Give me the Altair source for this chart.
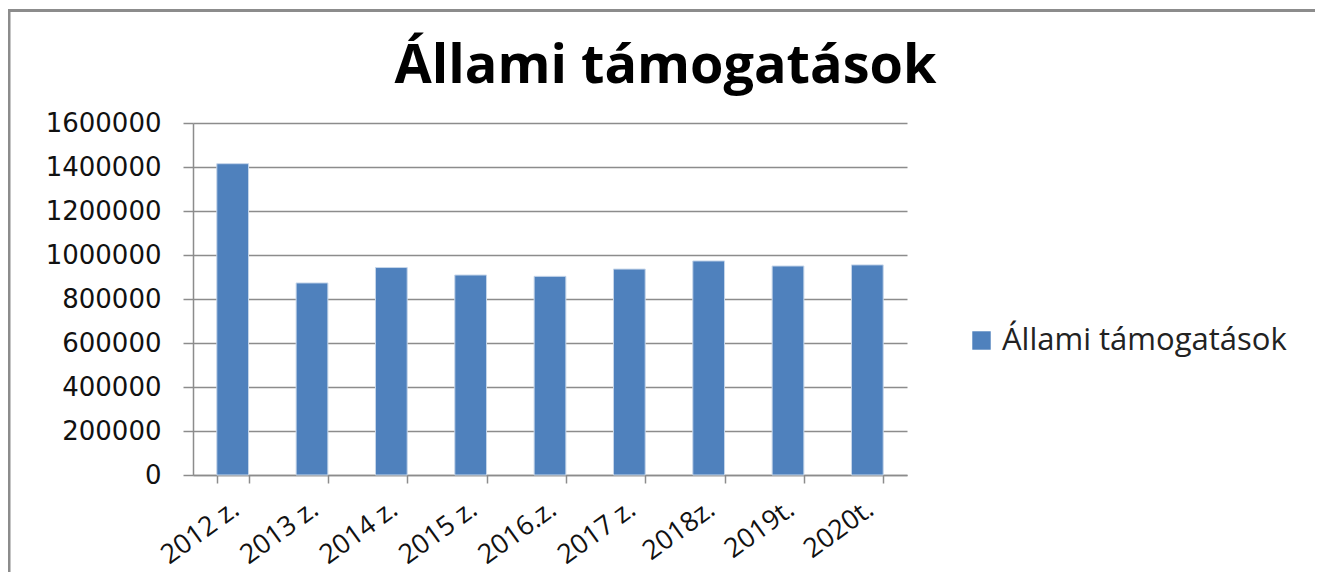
import altair as alt
import pandas as pd

categories = ["2012 z.", "2013 z.", "2014 z.", "2015 z.", "2016.z.", "2017 z.", "2018z.", "2019t.", "2020t."]
values = [1415000, 873000, 943000, 909000, 903000, 936000, 973000, 950000, 955000]
series_name = "Állami támogatások"
y_ticks = [0, 200000, 400000, 600000, 800000, 1000000, 1200000, 1400000, 1600000]

df = pd.DataFrame({"year": categories, "value": values, "series": [series_name] * len(categories)})

W, H = 714, 352
GRAY = "#8c8c8c"

bars = alt.Chart(df).mark_bar(stroke="#c6d6ea", strokeWidth=1).encode(
    x=alt.X("year:N", sort=categories, title=None,
            scale=alt.Scale(paddingInner=0.6, paddingOuter=0.3),
            axis=alt.Axis(labelAngle=-36, labelAlign="right", labelBaseline="middle",
                          labelFont="Open Sans", labelFontSize=27, labelColor="#111111",
                          labelPadding=23, labelOffset=3, tickBand="extent", tickSize=8,
                          tickColor=GRAY, domainColor=GRAY, domainWidth=1.5, tickWidth=1.5,
                          grid=False)),
    y=alt.Y("value:Q", title=None,
            scale=alt.Scale(domain=[0, 1600000], nice=False),
            axis=alt.Axis(values=y_ticks, format="d", labelFont="DejaVu Sans", labelFontSize=26,
                          labelColor="#111111", labelPadding=22, tickSize=10, tickColor=GRAY,
                          tickWidth=1.5, domainColor=GRAY, domainWidth=1.5, grid=True,
                          gridColor=GRAY, gridWidth=1.4)),
    color=alt.Color("series:N", scale=alt.Scale(range=["#4F81BD"]),
                    legend=alt.Legend(title=None, orient="none", legendX=773, legendY=202,
                                      symbolType="square", symbolSize=340, symbolStrokeWidth=0,
                                      labelFont="Open Sans", labelFontSize=31, labelColor="#222222",
                                      labelOffset=5, labelLimit=500)),
)

frame_data = alt.Data(values=[{"k": 1}])
left_border = alt.Chart(frame_data).mark_rule(color=GRAY, strokeWidth=3).encode(
    x=alt.value(-184), y=alt.value(-113), y2=alt.value(H + 97))
top_border = alt.Chart(frame_data).mark_rule(color=GRAY, strokeWidth=3).encode(
    x=alt.value(-185), x2=alt.value(W + 408), y=alt.value(-112.5))
title_text = alt.Chart(frame_data).mark_text(
    text=series_name, font="Open Sans", fontSize=54, fontWeight="bold", color="#000000",
    align="center", baseline="alphabetic").encode(x=alt.value(472.5), y=alt.value(-40))

chart = alt.layer(bars, left_border, top_border, title_text).properties(
    width=W, height=H,
    autosize=alt.AutoSizeParams(type="none"),
    padding={"left": 185, "top": 115, "right": 408, "bottom": 97},
).configure_view(stroke=None)

chart.save("out.html", embed_options={"renderer": "svg", "actions": False})
